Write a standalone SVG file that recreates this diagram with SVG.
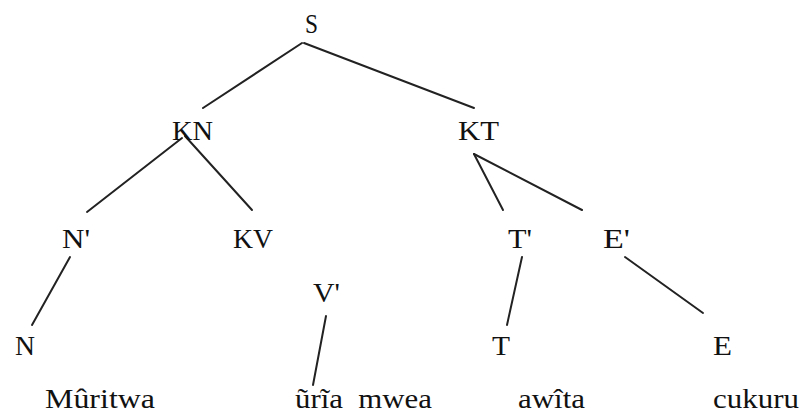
<svg xmlns="http://www.w3.org/2000/svg" width="801" height="416" viewBox="0 0 801 416">
<style>
text{font-family:"Liberation Serif","Times New Roman",serif;font-size:27px;fill:#111;white-space:pre}
.c{text-anchor:middle}
line{stroke:#222;stroke-width:2;stroke-linecap:round}
</style>
<rect width="801" height="416" fill="#fff"/>
<g id="connectors">
<line x1="302" y1="43" x2="203" y2="108"/>
<line x1="304" y1="43" x2="474" y2="108"/>
<line x1="182" y1="138" x2="87" y2="212"/>
<line x1="185" y1="136" x2="252" y2="210"/>
<line x1="70" y1="257" x2="32" y2="325"/>
<line x1="326" y1="316" x2="313" y2="385"/>
<line x1="474" y1="154" x2="503" y2="210"/>
<line x1="474" y1="154" x2="582" y2="210"/>
<line x1="522" y1="257" x2="507" y2="325"/>
<line x1="625" y1="257" x2="703" y2="313"/>
</g>
<g id="S"><text x="305" y="33" textLength="13" lengthAdjust="spacingAndGlyphs">S</text></g>
<g id="KN"><text x="172" y="140" textLength="41" lengthAdjust="spacingAndGlyphs">KN</text></g>
<g id="KT"><text x="458" y="140" textLength="41" lengthAdjust="spacingAndGlyphs">KT</text></g>
<g id="N1"><text x="62" y="248" textLength="28" lengthAdjust="spacingAndGlyphs">N'</text></g>
<g id="KV"><text x="233" y="248" textLength="40" lengthAdjust="spacingAndGlyphs">KV</text></g>
<g id="T1"><text x="508" y="248" textLength="24" lengthAdjust="spacingAndGlyphs">T'</text></g>
<g id="E1"><text x="603" y="248" textLength="27" lengthAdjust="spacingAndGlyphs">E'</text></g>
<g id="V1"><text x="313" y="302" textLength="27" lengthAdjust="spacingAndGlyphs">V'</text></g>
<g id="N"><text x="15" y="355" textLength="20" lengthAdjust="spacingAndGlyphs">N</text></g>
<g id="T"><text x="492" y="355" textLength="18" lengthAdjust="spacingAndGlyphs">T</text></g>
<g id="E"><text x="713" y="355" textLength="19" lengthAdjust="spacingAndGlyphs">E</text></g>
<g id="w1"><text x="45" y="408" textLength="110" lengthAdjust="spacingAndGlyphs">Mûritwa</text></g>
<g id="w2"><text x="295" y="408" textLength="137" lengthAdjust="spacingAndGlyphs">ũrĩa  mwea</text></g>
<g id="w3"><text x="518" y="408" textLength="67" lengthAdjust="spacingAndGlyphs">awîta</text></g>
<g id="w4"><text x="713" y="408" textLength="86" lengthAdjust="spacingAndGlyphs">cukuru</text></g>
</svg>
